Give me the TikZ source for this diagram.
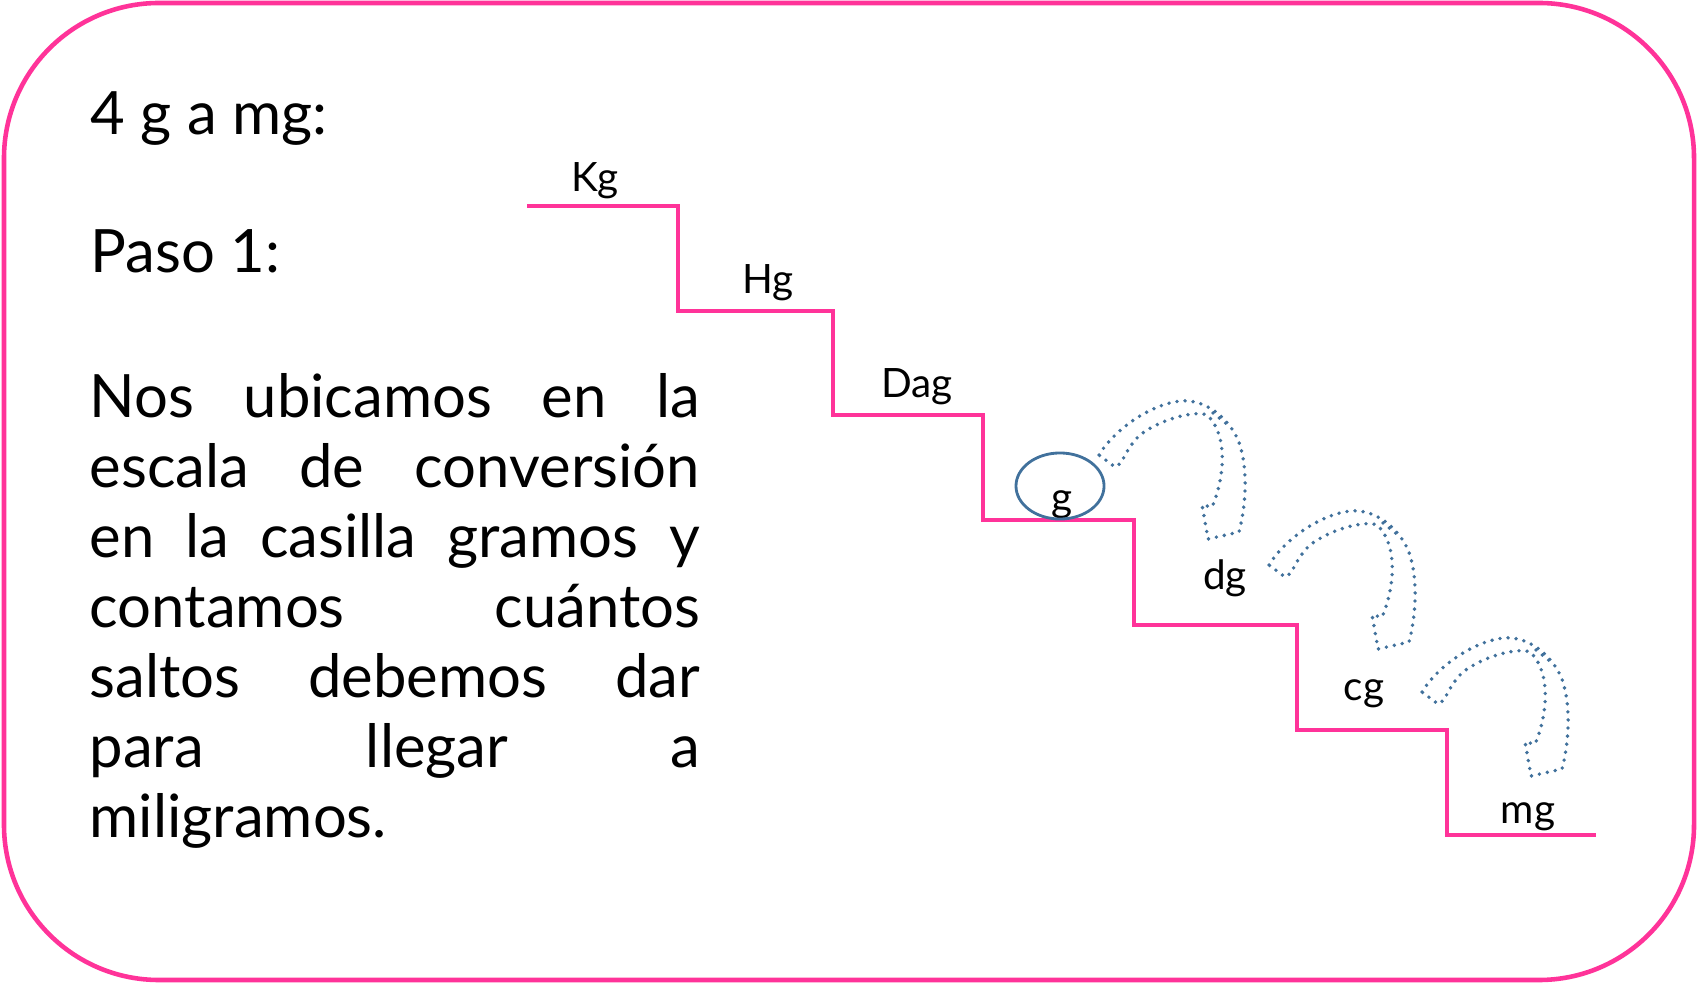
\documentclass[tikz,border=0pt]{standalone}
\usepackage{fontspec}
\setmainfont{Lato}
\usetikzlibrary{shapes.geometric}
\definecolor{rosa}{HTML}{FF3399}
\definecolor{azul}{HTML}{41719C}
\tikzset{
  marco/.style={draw=rosa, line width=1.3pt, rounded corners=1.55cm},
  escalera/.style={draw=rosa, line width=0.9pt},
  salto/.style={draw=azul, line width=1.1pt, line cap=round, dash pattern=on 0pt off 2.3pt},
  unidad/.style={anchor=base, inner sep=0pt, font=\fontsize{11.5pt}{13pt}\selectfont},
  texto/.style={inner sep=0pt, font=\fontsize{17pt}{19.9pt}\selectfont}
}
\begin{document}
\begin{tikzpicture}[x=0.01cm, y=-0.01cm]
\useasboundingbox (0,0) rectangle (1698,983);
\draw[marco] (4,3) rectangle (1694,980);

\node[texto, anchor=base west] (titulo) at (90,135) {4 g a mg:};
\node[texto, anchor=base west] (paso) at (90,273) {Paso 1:};
\node[texto, anchor=north west, text width=6.1cm, align=justify] (explica) at (89,368)
  {\strut\tolerance=10000\hyphenpenalty=10000 Nos ubicamos en la\linebreak
   escala de conversión\linebreak en la casilla gramos y\linebreak
   contamos cuántos\linebreak saltos debemos dar\linebreak
   para llegar a\linebreak miligramos.};

\draw[escalera] (527,206) -- (678,206) -- (678,311) -- (833,311) -- (833,415)
  -- (983,415) -- (983,520) -- (1134,520) -- (1134,625) -- (1297,625)
  -- (1297,730) -- (1447,730) -- (1447,835) -- (1596,835);

\node[unidad] (kg) at (595,192) {Kg};
\node[unidad] (hg) at (768,294) {Hg};
\node[unidad] (dag) at (917,398) {Dag};
\node[unidad] (g) at (1062,512) {g};
\node[draw=azul, line width=0.8pt, ellipse, minimum width=0.88cm, minimum height=0.66cm] (aro) at (1060,486) {};
\node[unidad] (dg) at (1225,590) {dg};
\node[unidad] (cg) at (1364,700) {cg};
\node[unidad] (mg) at (1528,823) {mg};

\foreach \p in {(1099,455),(1269,565),(1422,692)}
  \draw[salto, shift={\p}] (0,0) .. controls (15,-25) and (50,-50) .. (81,-54)
    .. controls (110,-57) and (138,-30) .. (143,-2)
    .. controls (148,20) and (147,50) .. (140,77) -- (109,84) -- (103,50) -- (113,52)
    .. controls (125,25) and (130,-20) .. (108,-40)
    .. controls (95,-45) and (60,-35) .. (41,-20)
    .. controls (32,-12) and (26,0) .. (22,8) -- (16,12) -- cycle
    (114,-42) -- (129,-30);
\end{tikzpicture}
\end{document}
